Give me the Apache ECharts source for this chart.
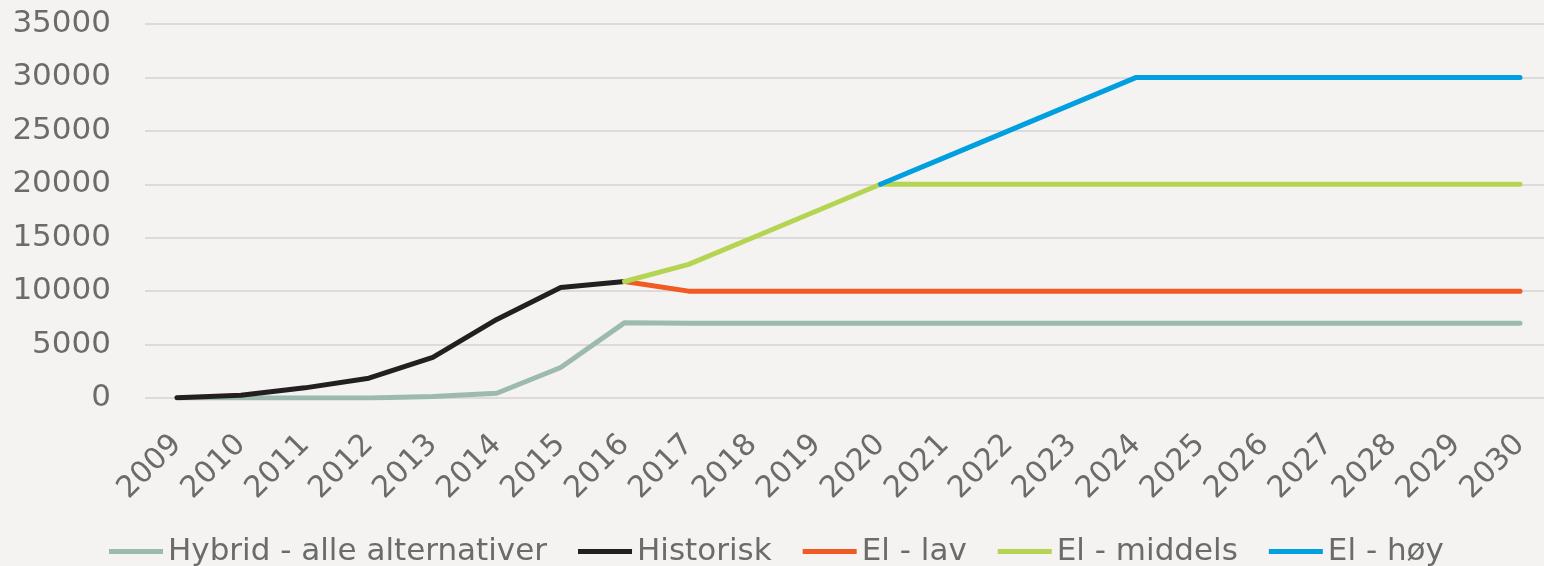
<!DOCTYPE html>
<html>
<head>
<meta charset="utf-8">
<script src="https://cdn.jsdelivr.net/npm/echarts@6/dist/echarts.min.js"></script>
<style>
html,body{margin:0;padding:0;background:#f4f3f1;}
#chart{width:1544px;height:566px;}
</style>
</head>
<body>
<div id="chart"></div>
<script type="text/javascript">
// år
var years = ['2009','2010','2011','2012','2013','2014','2015','2016','2017','2018','2019',
	'2020','2021','2022','2023','2024','2025','2026','2027','2028','2029','2030'];

var hybrid = [0, 0, 0, 0, 150, 440, 2850, 7050, 7000, 7000, 7000, 7000, 7000, 7000, 7000, 7000, 7000, 7000, 7000, 7000, 7000, 7000];
var historisk = [30, 250, 950, 1850, 3800, 7350, 10350, 10900, null, null, null, null, null, null, null, null, null, null, null, null, null, null];
var elLav = [null, null, null, null, null, null, null, 10900, 10000, 10000, 10000, 10000, 10000, 10000, 10000, 10000, 10000, 10000, 10000, 10000, 10000, 10000];
var elMiddels = [null, null, null, null, null, null, null, 10900, 12500, 15000, 17500, 20000, 20000, 20000, 20000, 20000, 20000, 20000, 20000, 20000, 20000, 20000];
var elHoy = [null, null, null, null, null, null, null, null, null, null, null, 20000, 22500, 25000, 27500, 30000, 30000, 30000, 30000, 30000, 30000, 30000];

var names = ['Hybrid - alle alternativer', 'Historisk', 'El - lav', 'El - middels', 'El - høy'];
var colors = ['#9dbab0', '#231f20', '#f15a22', '#b5d552', '#009fe0'];

var textColor = '#6b6b6b';

function lineSerie(i, data){
	return {
		name: names[i],
		type: 'line',
		data: data,
		symbol: 'none',
		smooth: false,
		connectNulls: false,
		color: colors[i],
		lineStyle: { width: 5, color: colors[i], cap: 'round' },
		z: 2 + i
	};
}

var myChart = echarts.init(document.getElementById('chart'));
var option = {
	backgroundColor: '#f4f3f1',
	animation: false,
	grid: {
		left: 145,
		width: 1407,
		top: 24,
		bottom: 168,
		containLabel: false,
		outerBoundsMode: 'none'
	},
	legend: {
		top: 531,
		left: 104,
		icon: 'rect',
		itemWidth: 54,
		itemHeight: 5,
		itemGap: 31,
		textStyle: {
			color: textColor,
			fontSize: 31,
			fontFamily: 'DejaVu Sans'
		},
		data: names
	},
	xAxis: {
		type: 'category',
		data: years,
		boundaryGap: true,
		axisLine: { show: false },
		axisTick: { show: false },
		axisLabel: {
			interval: 0,
			rotate: 45,
			margin: 42,
			color: textColor,
			fontSize: 30,
			fontFamily: 'DejaVu Sans'
		}
	},
	yAxis: {
		type: 'value',
		min: 0,
		max: 35000,
		interval: 5000,
		axisLine: { show: false },
		axisTick: { show: false },
		axisLabel: {
			margin: 34,
			color: textColor,
			fontSize: 31,
			fontFamily: 'DejaVu Sans',
			formatter: function(v){ return String(v); }
		},
		splitLine: { lineStyle: { color: '#dcdbd9', width: 2 } }
	},
	series: [
		lineSerie(0, hybrid),
		lineSerie(1, historisk),
		lineSerie(2, elLav),
		lineSerie(3, elMiddels),
		lineSerie(4, elHoy)
	]
};
myChart.setOption(option);
</script>
</body>
</html>
